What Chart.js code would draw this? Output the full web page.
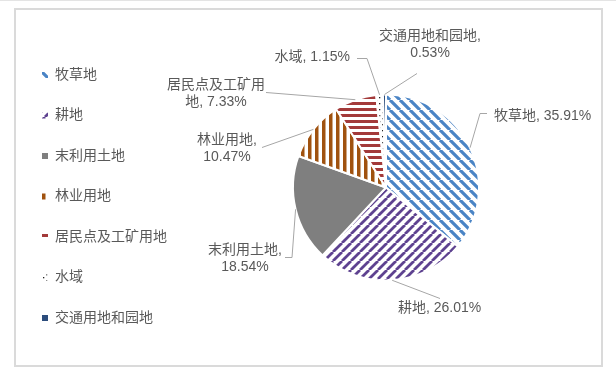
<!DOCTYPE html>
<html>
<head>
<meta charset="utf-8">
<script src="https://cdn.jsdelivr.net/npm/chart.js@4"></script>
<style>
  body { margin: 0; background: #fff; }
  #wrap { position: relative; width: 616px; height: 371px; overflow: hidden; }
  #topline { position: absolute; left: 0; top: 0; width: 616px; height: 1px; background: #e4e4e4; }
  #frame { position: absolute; left: 14px; top: 8px; width: 585px; height: 355px; border: 2px solid #dadada; }
  #chart { position: absolute; left: 0; top: 0; }
</style>
</head>
<body>
<div id="wrap">
  <div id="topline"></div>
  <div id="frame"></div>
  <canvas id="chart" width="616" height="371"></canvas>
</div>
<script>
// -------------------------------
// Data
// -------------------------------
const categories = ["牧草地", "耕地", "末利用土地", "林业用地", "居民点及工矿用地", "水域", "交通用地和园地"];
const shares = [35.91, 26.01, 18.54, 10.47, 7.33, 1.15, 0.53];

// fill style per slice
const fills = [
  { kind: "diagDown", color: "#4a84c5" },
  { kind: "diagUp", color: "#5e4290" },
  { kind: "solid", color: "#7f7f7f" },
  { kind: "vertical", color: "#a0520f" },
  { kind: "horizontal", color: "#a33a3a" },
  { kind: "dots", color: "#222222" },
  { kind: "solid", color: "#2c4d7c" }
];

// label placement relative to pie centre (leader elbow points + text anchor)
const labelLayout = [
  { path: [[94, -74], [101, -74]], x: 108, y: -71, align: "left", wrap: 0 },
  { path: [[54, 111]], x: 12, y: 121, align: "left", wrap: 0 },
  { path: [[-94, 70], [-101, 70]], x: -141, y: 63, align: "center", wrap: 6 },
  { path: [[-124, -40]], x: -159, y: -47, align: "center", wrap: 5 },
  { path: [[-120, -95]], x: -170, y: -102, align: "center", wrap: 7 },
  { path: [[-19, -129], [-29, -129]], x: -36, y: -130, align: "right", wrap: 0 },
  { path: [[31, -114]], x: 44, y: -151, align: "center", wrap: 8 }
];

const FONT = '14px "Liberation Sans", "Noto Sans CJK SC", sans-serif';
const TEXT_COLOR = "#595959";

// -------------------------------
// Patterns
// -------------------------------
function makeFill(f) {
  if (f.kind === "solid") return f.color;
  const c = document.createElement("canvas");
  const g = c.getContext("2d");
  let p;
  if (f.kind === "diagDown" || f.kind === "diagUp") {
    p = f.kind === "diagDown" ? 10 : 9;
    c.width = p; c.height = p;
    g.fillStyle = "#fff";
    g.fillRect(0, 0, p, p);
    g.strokeStyle = f.color;
    g.lineWidth = f.kind === "diagDown" ? 3.2 : 2.8;
    g.beginPath();
    for (const o of [-p, 0, p]) {
      if (f.kind === "diagDown") {
        g.moveTo(o, 0); g.lineTo(o + p, p);
      } else {
        g.moveTo(o, p); g.lineTo(o + p, 0);
      }
    }
    g.stroke();
  } else if (f.kind === "vertical") {
    c.width = 7; c.height = 7;
    g.fillStyle = "#fff";
    g.fillRect(0, 0, 7, 7);
    g.fillStyle = f.color;
    g.fillRect(0, 0, 3.5, 7);
  } else if (f.kind === "horizontal") {
    c.width = 6; c.height = 6;
    g.fillStyle = "#fff";
    g.fillRect(0, 0, 6, 6);
    g.fillStyle = f.color;
    g.fillRect(0, 0, 6, 3);
  } else {
    c.width = 6; c.height = 6;
    g.fillStyle = "#fff";
    g.fillRect(0, 0, 6, 6);
    g.fillStyle = f.color;
    g.fillRect(1, 1, 1.3, 1.3);
    g.fillRect(4, 4, 1.3, 1.3);
  }
  const tmp = document.createElement("canvas").getContext("2d");
  return tmp.createPattern(c, "repeat");
}

const sliceFills = fills.map(makeFill);

// -------------------------------
// Plugins: outside labels + legend
// -------------------------------
const outsideLabels = {
  id: "outsideLabels",
  afterDatasetsDraw(chart) {
    const ctx = chart.ctx;
    const arcs = chart.getDatasetMeta(0).data;
    ctx.save();
    ctx.font = FONT;
    ctx.textBaseline = "middle";
    arcs.forEach((arc, i) => {
      const lay = labelLayout[i];
      const mid = (arc.startAngle + arc.endAngle) / 2;
      const cx = arc.x, cy = arc.y;
      const ex = cx + Math.cos(mid) * arc.outerRadius;
      const ey = cy + Math.sin(mid) * arc.outerRadius;

      ctx.strokeStyle = "#a6a6a6";
      ctx.lineWidth = 1;
      ctx.beginPath();
      ctx.moveTo(ex, ey);
      lay.path.forEach(pt => ctx.lineTo(cx + pt[0], cy + pt[1]));
      ctx.stroke();

      const full = `${categories[i]}, ${shares[i].toFixed(2)}%`;
      const lines = lay.wrap ? [full.slice(0, lay.wrap), full.slice(lay.wrap).trim()] : [full];
      ctx.fillStyle = TEXT_COLOR;
      ctx.textAlign = lay.align;
      lines.forEach((t, k) => ctx.fillText(t, cx + lay.x, cy + lay.y + k * 16.5));
    });
    ctx.restore();
  }
};

const sideLegend = {
  id: "sideLegend",
  afterDraw(chart) {
    const ctx = chart.ctx;
    ctx.save();
    ctx.font = FONT;
    ctx.textBaseline = "middle";
    ctx.textAlign = "left";
    categories.forEach((name, i) => {
      const y = 75 + i * 40.5;
      ctx.fillStyle = sliceFills[i];
      ctx.fillRect(42, y - 3, 6, 6);
      ctx.fillStyle = TEXT_COLOR;
      ctx.fillText(name, 55, y);
    });
    ctx.restore();
  }
};

// -------------------------------
// Chart
// -------------------------------
new Chart(document.getElementById("chart"), {
  type: "pie",
  data: {
    labels: categories,
    datasets: [{
      data: shares,
      backgroundColor: sliceFills,
      borderColor: "#ffffff",
      borderWidth: 2
    }]
  },
  options: {
    responsive: false,
    animation: false,
    devicePixelRatio: 1,
    layout: { padding: { left: 292, right: 136, top: 93, bottom: 89 } },
    plugins: {
      legend: { display: false },
      tooltip: { enabled: false }
    }
  },
  plugins: [outsideLabels, sideLegend]
});
</script>
</body>
</html>
